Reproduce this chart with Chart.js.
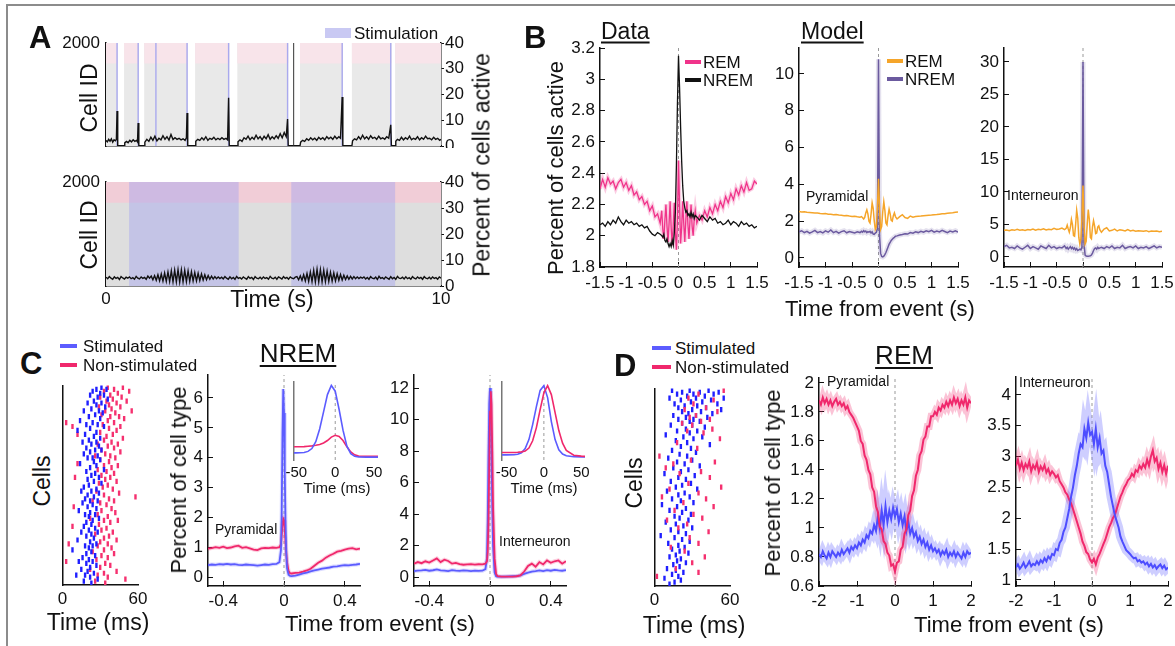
<!DOCTYPE html>
<html>
<head>
<meta charset="utf-8">
<script src="https://cdn.jsdelivr.net/npm/chart.js@4"></script>
<style>
body { margin: 0; background: #fff; width: 1175px; height: 646px; overflow: hidden; position: relative;
       font-family: "Liberation Sans", Arial, Helvetica, sans-serif; color: #111; }
canvas { position: absolute; }
.t { position: absolute; white-space: nowrap; line-height: 1; }
.frame { position: absolute; background: #8c8c8c; }
</style>
</head>
<body>
<div class="frame" style="left:6px;top:4px;width:1169px;height:2px"></div>
<div class="frame" style="left:6px;top:4px;width:2px;height:642px"></div>
<script>
// ---------- panel A : raster + percent of cells active ----------
// edges of the columns where the top raster has spikes (on / off alternating)
const aTopEdges = [0, 0.35, 0.54, 0.98, 1.14, 2.44, 2.66, 3.68, 3.92, 5.44, 5.79, 7.07, 7.34, 8.52, 8.63, 10];
const aTopCells = [2000, 0, 2000, 0, 2000, 0, 2000, 0, 2000, 0, 2000, 0, 2000, 0, 2000, 2000];
const aStimPulses = [0.33, 0.96, 1.49, 2.42, 3.66, 5.42, 7.05, 8.5];
const aBurstCols = [5.6];
// [time (s), percent active]
const aTopLine = [[0,2.2],[0.04,1.6],[0.08,2.6],[0.12,1.9],[0.16,2.8],[0.2,1.5],[0.24,2.4],[0.28,2.0],[0.31,2.6],[0.33,13.6],[0.35,0],[0.54,0],
  [0.56,1.2],[0.61,1.8],[0.66,1.3],[0.71,2.2],[0.76,1.6],[0.81,2.4],[0.86,1.8],[0.91,2.2],[0.94,1.6],[0.96,8.9],[0.98,0],[1.14,0],
  [1.16,1.5],[1.22,2.6],[1.28,1.8],[1.34,3.4],[1.4,2.2],[1.46,3.8],[1.52,2.0],[1.58,3.0],[1.64,2.4],[1.7,4.0],[1.76,2.6],[1.82,3.6],[1.88,2.3],[1.94,4.5],[2.0,2.5],[2.06,3.2],[2.12,2.6],[2.18,3.0],[2.24,2.4],[2.3,2.8],[2.36,2.2],[2.4,3.2],[2.42,12.8],[2.44,0],[2.66,0],
  [2.68,1.8],[2.74,2.6],[2.8,2.2],[2.86,3.2],[2.92,2.4],[2.98,3.6],[3.04,2.2],[3.1,3.0],[3.16,2.6],[3.22,3.4],[3.28,2.4],[3.34,3.0],[3.4,2.5],[3.46,3.2],[3.52,2.6],[3.58,3.0],[3.63,2.4],[3.66,18.7],[3.68,0],[3.92,0],
  [3.94,1.6],[4.0,2.4],[4.06,1.8],[4.12,3.2],[4.18,2.6],[4.24,3.8],[4.3,2.4],[4.36,3.4],[4.42,2.6],[4.48,4.2],[4.54,2.8],[4.6,3.6],[4.66,2.4],[4.72,3.8],[4.78,2.8],[4.84,4.4],[4.9,2.6],[4.96,3.6],[5.02,2.8],[5.08,4.0],[5.14,3.0],[5.2,4.8],[5.26,3.2],[5.32,5.2],[5.38,3.6],[5.42,10.5],[5.44,0],[5.79,0],
  [5.81,1.5],[5.87,2.2],[5.93,1.8],[5.99,2.8],[6.05,2.2],[6.11,3.2],[6.17,2.4],[6.23,3.0],[6.29,2.2],[6.35,3.4],[6.41,2.6],[6.47,3.2],[6.53,2.4],[6.59,3.6],[6.65,2.8],[6.71,3.4],[6.77,2.6],[6.83,3.8],[6.89,2.8],[6.95,3.6],[7.0,3.0],[7.05,19.0],[7.07,0],[7.34,0],
  [7.36,2.0],[7.42,2.8],[7.48,2.4],[7.54,3.6],[7.6,2.6],[7.66,4.2],[7.72,2.8],[7.78,3.6],[7.84,2.6],[7.9,4.0],[7.96,3.0],[8.02,3.4],[8.08,2.6],[8.14,3.8],[8.2,2.8],[8.26,3.2],[8.32,2.6],[8.38,3.6],[8.44,3.0],[8.5,8.2],[8.52,0],[8.63,0],
  [8.65,1.8],[8.7,2.6],[8.76,2.2],[8.82,3.4],[8.88,2.4],[8.94,3.2],[9.0,2.6],[9.06,3.8],[9.12,2.4],[9.18,3.0],[9.24,2.6],[9.3,3.6],[9.36,2.4],[9.42,3.2],[9.48,2.6],[9.54,3.8],[9.6,2.8],[9.66,3.0],[9.72,2.4],[9.78,3.4],[9.84,2.6],[9.9,3.0],[9.96,2.2],[10,2.6]];

// bottom raster: stimulation windows and percent active sampled every 0.05 s
const aBotStim = [[0.69, 3.96], [5.53, 8.63]];
const aBotDt = 0.05;
const aBotPct = [
  3.4,2.8,3.6,3.0,2.6,3.5,2.9,3.3,2.5,3.6,3.1,2.7,3.4,3.0,3.5,2.8,3.2,2.6,3.7,3.0,2.7,3.5,2.9,3.3,2.6,3.8,3.0,
  3.8,2.4,4.0,2.2,4.3,2.0,4.6,1.9,5.0,1.8,5.4,1.7,5.8,1.6,6.1,1.6,6.3,1.5,6.2,1.6,6.0,1.7,5.8,1.8,5.5,1.9,5.2,2.0,4.9,2.1,4.6,2.3,4.3,2.4,4.0,2.6,3.8,2.7,3.6,2.8,3.5,
  2.9,3.4,2.7,3.6,3.0,2.6,3.5,2.8,3.3,2.6,3.7,2.9,3.2,2.7,3.5,3.0,2.6,3.6,2.9,3.3,2.5,3.6,3.0,2.8,3.4,2.7,3.5,2.9,3.2,2.6,3.7,3.0,2.8,3.4,2.6,3.5,3.1,2.7,3.6,2.9,3.3,2.6,3.5,3.0,2.8,3.4,
  3.6,2.4,3.9,2.2,4.3,2.0,4.8,1.8,5.4,1.7,6.0,1.6,6.4,1.6,6.3,1.6,6.0,1.7,5.7,1.8,5.3,1.9,5.0,2.0,4.7,2.2,4.4,2.3,4.1,2.5,3.9,2.6,3.7,2.7,3.6,2.8,3.5,2.9,3.4,3.0,
  3.5,2.7,3.3,2.6,3.6,3.0,2.8,3.4,2.5,3.7,2.9,3.2,2.7,3.5,3.0,2.6,3.6,2.8,3.3,2.6,3.7,3.0,2.9,3.4,2.7,3.5,2.8,3.2,2.6,3.6,3.0,2.7,3.5,2.9,3.3,2.6,3.6,3.0,2.8,3.4,2.7,3.5,2.9,3.2,2.6,3.5,3.0];

// ---------- panel B : event-triggered activity ----------
const bTime = [-1.5,-1.45,-1.4,-1.35,-1.3,-1.25,-1.2,-1.15,-1.1,-1.05,-1,-0.95,-0.9,-0.85,-0.8,-0.75,-0.7,-0.65,-0.6,-0.55,-0.5,-0.45,-0.4,-0.35,
  -0.32,-0.3,-0.28,-0.26,-0.24,-0.22,-0.2,-0.18,-0.16,-0.14,-0.12,-0.1,-0.08,-0.06,-0.04,-0.02,0,0.02,0.04,0.06,0.08,0.1,0.12,0.14,0.16,0.18,0.2,0.22,0.24,0.26,0.28,0.3,0.32,
  0.35,0.4,0.45,0.5,0.55,0.6,0.65,0.7,0.75,0.8,0.85,0.9,0.95,1,1.05,1.1,1.15,1.2,1.25,1.3,1.35,1.4,1.45,1.5];
const bDataRem = [2.30,2.36,2.31,2.37,2.33,2.35,2.30,2.34,2.36,2.31,2.34,2.29,2.32,2.26,2.28,2.23,2.25,2.20,2.22,2.16,2.19,2.12,2.14,2.08,
  2.16,2.04,1.98,2.10,2.20,2.06,1.96,2.08,2.22,2.05,1.94,2.07,2.21,2.02,1.91,2.10,2.48,2.20,1.95,2.05,2.22,2.08,1.96,2.10,2.22,2.07,1.98,2.10,2.20,2.06,2.00,2.10,2.16,
  2.08,2.13,2.10,2.16,2.12,2.18,2.14,2.20,2.16,2.22,2.18,2.25,2.21,2.27,2.23,2.30,2.26,2.32,2.28,2.34,2.29,2.30,2.35,2.33];
const bDataNrem = [2.07,2.08,2.06,2.09,2.07,2.10,2.08,2.12,2.09,2.07,2.10,2.08,2.09,2.07,2.08,2.06,2.07,2.05,2.06,2.03,2.01,2.00,2.02,2.01,
  2.00,1.99,2.01,1.97,1.96,1.98,1.95,1.93,1.95,1.93,1.97,1.94,2.02,2.15,2.45,2.85,3.15,2.95,2.70,2.48,2.32,2.22,2.18,2.15,2.16,2.13,2.14,2.12,2.15,2.12,2.14,2.11,2.13,
  2.12,2.10,2.13,2.11,2.09,2.12,2.10,2.11,2.08,2.09,2.07,2.08,2.10,2.07,2.09,2.08,2.06,2.09,2.07,2.08,2.06,2.07,2.05,2.06];
const bPyrRem = [2.52,2.50,2.51,2.48,2.47,2.46,2.44,2.45,2.42,2.40,2.41,2.38,2.37,2.35,2.36,2.33,2.32,2.30,2.31,2.28,2.26,2.27,2.24,2.22,
  2.25,2.18,2.12,2.20,2.45,2.62,2.40,2.00,1.90,2.40,3.00,2.70,2.00,1.55,1.70,2.80,4.30,2.60,1.55,1.70,2.50,3.05,2.60,1.90,1.80,2.30,2.65,2.40,2.05,2.00,2.30,2.45,2.25,
  2.12,2.25,2.35,2.20,2.15,2.28,2.22,2.25,2.27,2.28,2.30,2.31,2.32,2.33,2.35,2.36,2.38,2.40,2.41,2.43,2.45,2.46,2.48,2.50];
const bPyrNrem = [1.42,1.48,1.38,1.45,1.35,1.42,1.50,1.38,1.44,1.36,1.47,1.40,1.52,1.38,1.45,1.35,1.43,1.48,1.37,1.44,1.40,1.36,1.42,1.38,
  1.45,1.40,1.48,1.42,1.46,1.38,1.43,1.40,1.45,1.36,1.42,1.30,1.28,1.35,1.40,1.60,10.8,1.2,0.25,0.08,0.06,0.10,0.18,0.30,0.45,0.60,0.75,0.85,0.95,1.02,1.08,1.12,1.18,
  1.20,1.25,1.28,1.32,1.30,1.38,1.35,1.42,1.38,1.45,1.40,1.48,1.43,1.50,1.40,1.46,1.42,1.50,1.44,1.38,1.46,1.42,1.48,1.40];
const bIntRem = [4.10,4.15,4.05,4.20,4.10,4.25,4.12,4.18,4.08,4.22,4.15,4.30,4.12,4.25,4.20,4.35,4.15,4.28,4.20,4.40,4.25,4.30,4.45,4.20,
  4.4,4.9,4.3,3.8,4.5,5.8,5.0,3.3,3.2,5.0,7.2,6.0,3.0,2.0,2.8,6.0,11.0,5.0,2.0,2.4,5.0,7.3,5.8,3.0,2.8,4.6,5.6,4.8,3.6,3.7,4.6,4.8,4.2,
  3.8,4.3,4.5,4.0,4.1,4.3,4.0,4.2,4.1,4.0,4.2,4.0,4.1,3.95,4.05,4.0,3.95,4.05,3.9,4.0,3.95,4.0,3.9,3.95];
const bIntNrem = [1.6,1.8,1.4,1.5,1.3,1.7,1.4,1.2,1.5,1.8,1.3,1.6,1.4,1.2,1.7,1.5,1.3,1.8,1.4,1.6,1.3,1.5,1.4,1.7,
  1.3,1.5,1.2,1.4,1.6,1.3,1.5,1.2,1.4,1.1,1.3,1.0,1.1,1.2,1.1,1.5,30.0,2.0,0.3,0.15,0.12,0.12,0.15,0.2,0.3,0.6,1.0,1.3,1.4,1.2,1.5,1.3,1.4,
  1.5,1.3,1.6,1.4,1.7,1.3,1.5,1.4,1.8,1.3,1.5,1.6,1.4,1.7,1.3,1.5,1.4,1.6,1.3,1.5,1.7,1.4,1.6,1.5];

// ---------- panel C : NREM ----------
const cTime = [-0.5,-0.475,-0.45,-0.425,-0.4,-0.375,-0.35,-0.325,-0.3,-0.275,-0.25,-0.225,-0.2,-0.175,-0.15,-0.125,-0.1,-0.075,-0.05,
  -0.03,-0.02,-0.015,-0.01,-0.005,0,0.005,0.01,0.015,0.02,0.03,0.04,
  0.05,0.075,0.1,0.125,0.15,0.175,0.2,0.225,0.25,0.275,0.3,0.325,0.35,0.375,0.4,0.425,0.45,0.475,0.5];
const cPyrStim = [0.40,0.42,0.41,0.43,0.42,0.44,0.42,0.43,0.41,0.40,0.42,0.41,0.40,0.38,0.40,0.42,0.41,0.43,0.44,
  0.5,0.9,2.2,4.8,6.3,5.5,3.5,1.8,0.8,0.3,0.08,0.04,
  0.03,0.05,0.08,0.12,0.15,0.19,0.22,0.25,0.28,0.30,0.32,0.35,0.36,0.38,0.40,0.39,0.41,0.42,0.44];
const cPyrNon = [0.95,0.97,1.00,0.98,1.02,0.97,0.99,1.03,1.05,0.98,1.00,0.96,0.92,0.90,0.96,0.98,0.97,0.99,0.98,
  1.0,1.1,1.4,1.75,1.95,1.9,1.6,1.2,0.8,0.5,0.2,0.13,
  0.12,0.14,0.15,0.18,0.22,0.28,0.38,0.48,0.55,0.65,0.72,0.78,0.85,0.88,0.92,0.95,0.97,0.93,0.95];
const cIntStim = [0.38,0.40,0.42,0.45,0.40,0.43,0.48,0.42,0.40,0.38,0.44,0.41,0.39,0.42,0.40,0.38,0.41,0.39,0.40,
  0.5,1.2,3.5,7.5,11.0,12.0,11.0,8.0,4.5,2.0,0.3,0.05,
  0.02,0.02,0.03,0.04,0.05,0.06,0.10,0.20,0.28,0.35,0.38,0.42,0.38,0.44,0.40,0.45,0.42,0.40,0.44];
const cIntNon = [0.85,0.95,0.88,1.0,0.92,1.05,1.18,0.95,1.1,1.02,0.85,0.9,0.82,0.78,0.8,0.82,0.79,0.81,0.8,
  0.85,1.0,1.6,3.5,7.0,10.5,11.8,11.0,8.0,4.5,1.2,0.2,
  0.05,0.02,0.02,0.03,0.03,0.05,0.10,0.35,0.70,0.85,0.65,0.95,0.80,1.05,0.90,1.00,1.05,0.85,1.00];
const cInsetTime = [-60,-50,-40,-35,-30,-25,-20,-15,-10,-5,0,5,10,15,20,25,30,40,50,55];
const cPyrInsetStim = [0.42,0.42,0.45,0.55,0.8,1.4,2.5,4.0,5.5,6.3,5.8,4.2,2.4,1.0,0.35,0.12,0.06,0.05,0.05,0.05];
const cPyrInsetNon = [0.95,0.95,0.97,1.0,1.03,1.08,1.15,1.28,1.5,1.8,1.95,1.85,1.5,0.95,0.5,0.25,0.14,0.12,0.12,0.12];
const cIntInsetStim = [0.45,0.45,0.47,0.55,0.8,1.5,3.0,5.5,8.5,11.2,12.0,10.0,6.0,3.0,1.3,0.6,0.3,0.15,0.12,0.12];
const cIntInsetNon = [0.85,0.85,0.86,0.88,0.95,1.1,1.6,2.8,5.0,8.0,10.8,12.0,10.5,7.5,4.5,2.4,1.2,0.4,0.25,0.2];
// [time (ms), cell]
const cRasterStim = [[31,100],[27,99],[35,99],[24,98],[30,97],[22,96],[33,96],[28,95],[36,94],[25,93],[31,92],[20,92],[27,91],[34,90],[23,89],[29,88],[17,88],[32,87],[26,86],[21,85],[30,84],[14,83],[24,82],[28,81],[19,81],[33,80],[22,79],[12,78],[27,77],[18,76],[25,75],[30,74],[21,73],[16,72],[27,72],[23,71],[29,70],[19,69],[26,68],[31,68],[22,67],[17,66],[28,65],[24,64],[20,64],[30,63],[25,62],[14,61],[27,60],[22,59],[33,58],[19,57],[26,56],[23,55],[29,54],[20,53],[25,52],[31,51],[21,50],[17,49],[27,48],[23,47],[15,47],[29,46],[20,45],[25,44],[18,43],[22,42],[28,42],[16,41],[24,40],[20,39],[27,38],[13,37],[22,36],[26,35],[18,35],[21,34],[29,33],[24,32],[19,31],[23,30],[17,29],[26,28],[21,27],[28,26],[15,26],[23,25],[19,24],[25,23],[12,22],[22,21],[27,20],[18,19],[24,19],[21,18],[8,17],[23,16],[19,15],[26,14],[16,13],[21,12],[24,11],[13,11],[19,10],[27,9],[22,8],[15,7],[20,6],[25,5],[18,4],[11,4],[22,3],[28,2],[17,1],[23,0]];
const cRasterNon = [[36,100],[48,100],[41,99],[33,98],[53,98],[44,97],[38,96],[47,95],[30,95],[40,94],[35,93],[51,93],[43,92],[37,91],[46,90],[29,90],[39,89],[34,88],[55,88],[42,87],[31,86],[45,85],[38,85],[49,84],[36,83],[3,82],[41,82],[32,81],[8,80],[46,80],[37,79],[43,78],[30,77],[12,76],[40,76],[35,75],[48,74],[33,73],[39,72],[28,71],[44,71],[36,70],[41,69],[31,68],[46,67],[34,66],[38,65],[26,65],[42,64],[30,63],[37,62],[12,61],[33,60],[44,60],[39,59],[28,58],[35,57],[41,56],[31,55],[10,54],[38,54],[34,53],[43,52],[29,51],[36,50],[32,49],[40,48],[27,47],[45,46],[33,45],[58,44],[37,43],[24,42],[41,42],[30,41],[35,40],[9,39],[39,38],[31,37],[42,36],[28,35],[36,34],[22,33],[33,32],[44,32],[38,31],[29,30],[8,29],[35,28],[31,27],[40,26],[26,25],[37,24],[33,23],[43,22],[30,21],[5,20],[36,20],[28,19],[39,18],[33,17],[24,16],[41,15],[31,14],[36,13],[27,12],[3,11],[34,10],[38,9],[30,8],[22,7],[43,6],[33,5],[28,4],[36,3],[50,2],[26,1],[34,0]];

// ---------- panel D : REM (sampled every 0.05 s from -2 s) ----------
const dStart = -2, dDt = 0.05;
const dPyrNon = [1.88,1.85,1.90,1.86,1.89,1.85,1.88,1.84,1.87,1.89,1.85,1.87,1.84,1.86,1.82,1.84,1.80,1.78,1.76,1.73,1.70,
  1.67,1.60,1.58,1.50,1.47,1.40,1.37,1.28,1.25,1.15,1.11,1.01,0.99,0.91,0.89,0.83,0.81,0.74,0.75,0.70,
  0.76,0.77,0.85,0.87,0.96,0.99,1.09,1.12,1.22,1.26,1.36,1.40,1.50,1.53,1.61,1.63,1.70,1.70,1.77,1.77,
  1.80,1.78,1.83,1.81,1.85,1.83,1.87,1.84,1.88,1.85,1.90,1.86,1.89,1.84,1.88,1.85,1.90,1.83,1.88,1.86];
const dPyrStim = [0.82,0.80,0.84,0.81,0.79,0.83,0.80,0.84,0.82,0.80,
  0.83,0.81,0.85,0.82,0.84,0.86,0.83,0.87,0.85,0.88,
  0.86,0.90,0.88,0.92,0.90,0.95,0.93,0.98,0.96,1.02,
  0.98,1.08,1.00,1.12,1.02,1.15,1.04,1.12,1.06,1.14,
  1.08,1.13,1.04,1.10,1.02,1.08,0.98,1.04,0.96,1.00,
  0.94,0.97,0.91,0.94,0.89,0.92,0.87,0.90,0.85,0.88,
  0.84,0.86,0.83,0.85,0.81,0.84,0.82,0.85,0.80,0.83,
  0.81,0.84,0.80,0.83,0.81,0.79,0.83,0.80,0.84,0.82,0.83];
const dIntNon = [2.85,2.95,2.80,2.90,2.78,2.88,2.82,2.92,2.76,2.86,2.80,2.90,2.75,2.84,2.78,2.86,2.74,2.80,2.70,2.76,
  2.72,2.66,2.70,2.60,2.55,2.50,2.42,2.38,2.30,2.24,2.15,2.05,1.95,1.85,1.75,1.62,1.55,1.45,1.42,1.33,
  1.28,1.34,1.25,1.36,1.42,1.50,1.58,1.65,1.75,1.85,1.92,2.00,2.05,2.15,2.25,2.35,2.42,2.50,2.55,2.62,
  2.65,2.72,2.68,2.78,2.75,2.85,2.80,2.88,2.82,2.95,2.85,3.00,3.10,2.92,2.98,2.80,2.90,2.75,2.86,2.72,2.85];
const dIntStim = [1.20,1.25,1.18,1.22,1.28,1.20,1.24,1.30,1.22,1.26,
  1.24,1.30,1.25,1.32,1.28,1.35,1.30,1.38,1.34,1.42,
  1.40,1.50,1.48,1.60,1.65,1.78,1.85,2.00,2.15,2.35,
  2.50,2.70,2.85,3.05,3.20,3.15,3.45,3.30,3.55,3.35,
  3.40,3.20,3.45,3.15,3.30,3.05,3.10,2.85,2.75,2.55,
  2.35,2.20,2.05,1.95,1.85,1.70,1.62,1.55,1.48,1.45,
  1.42,1.38,1.35,1.36,1.30,1.32,1.28,1.30,1.25,1.28,
  1.22,1.26,1.20,1.24,1.18,1.22,1.25,1.19,1.23,1.17,1.20];
const dRasterStim = [[14,100],[28,100],[43,100],[22,99],[36,99],[51,99],[18,98],[31,98],[47,98],[26,97],[40,97],[12,96],[33,96],[55,96],[21,95],[45,95],[29,94],[38,94],[16,93],[50,93],[24,92],[34,92],[41,91],[19,91],[30,90],[53,90],[22,89],[37,89],[27,88],[46,88],[15,87],[33,87],[25,86],[42,86],[19,85],[31,85],[36,84],[28,84],[22,83],[30,82],[13,82],[40,81],[25,80],[18,79],[34,79],[28,78],[9,77],[23,76],[38,76],[31,75],[17,74],[26,73],[44,72],[21,71],[29,70],[14,69],[33,68],[20,67],[26,66],[11,65],[30,64],[18,63],[24,62],[36,61],[15,60],[27,59],[21,58],[8,57],[32,56],[19,55],[25,54],[13,53],[29,52],[22,51],[17,50],[34,49],[10,48],[24,47],[19,46],[28,45],[14,44],[21,43],[31,42],[6,41],[18,40],[25,39],[12,38],[22,37],[29,36],[16,35],[20,34],[27,33],[9,32],[17,31],[23,30],[30,29],[13,28],[19,27],[25,26],[5,25],[16,24],[22,23],[28,22],[11,21],[19,20],[24,19],[14,18],[20,17],[27,16],[17,15],[12,14],[21,13],[18,12],[25,11],[15,10],[20,9],[10,8],[17,7],[23,6],[14,5],[19,4],[8,3],[21,2],[16,1],[12,0]];
const dRasterNon = [[55,100],[35,98],[27,96],[47,95],[31,93],[41,91],[24,90],[50,89],[33,87],[28,86],[44,85],[37,84],[22,83],[30,82],[46,80],[26,79],[39,78],[52,75],[18,73],[34,70],[4,66],[29,64],[48,63],[15,62],[9,60],[37,58],[20,57],[44,55],[27,52],[53,50],[12,49],[35,47],[6,45],[41,44],[23,42],[47,40],[16,38],[31,36],[38,34],[10,33],[26,31],[19,29],[43,27],[28,24],[35,21],[13,19],[24,17],[40,14],[30,11],[17,8],[35,6],[2,4]];

// ---------- colours ----------
const pinkB = '#f0338a', orange = '#f5a52a', purple = '#6b5a9f';
const blueC = '#5c5cff', pinkC = '#f0286c', rasterBlue = '#1f1fff', rasterPink = '#f5306f';

Chart.defaults.font.family = '"Liberation Sans", Arial, Helvetica, sans-serif';
Chart.defaults.color = '#111';

const fmt = v => String(Math.round(v * 100) / 100);
const pts = (xs, ys) => xs.map((x, i) => ({x: x, y: ys[i]}));
const pairs = arr => arr.map(p => ({x: p[0], y: p[1]}));
const grid = (start, dt, n) => Array.from({length: n}, (v, i) => Math.round((start + i * dt) * 1000) / 1000);

function line(data, color, width, order, extra) {
  return Object.assign({data: data, borderColor: color, backgroundColor: color, borderWidth: width,
    pointRadius: 0, fill: false, tension: 0, order: order}, extra || {});
}
function zeroLine(y0, y1) {
  return line([{x: 0, y: y0}, {x: 0, y: y1}], '#9a9a9a', 1, 50, {borderDash: [3, 3]});
}
function dots(arr, color, order) {
  return {data: pairs(arr), showLine: false, pointStyle: 'line', rotation: 90, pointRadius: 2.6,
    pointBorderWidth: 2.4, borderColor: color, backgroundColor: color, order: order};
}

function axis(pos, min, max, tickVals, o) {
  o = o || {};
  const horiz = pos === 'bottom';
  return {
    type: 'linear', position: pos, min: min, max: max,
    afterBuildTicks: s => { s.ticks = tickVals.map(v => ({value: v})); },
    afterFit: s => {
      if (horiz) { s.height = o.size; s.paddingLeft = 0; s.paddingRight = 0; }
      else { s.width = o.size; s.paddingTop = 0; s.paddingBottom = 0; }
    },
    ticks: {display: o.labels !== false, autoSkip: false, maxRotation: 0, padding: o.pad ?? 10,
      font: {size: o.fs || 17}, color: '#111', callback: fmt},
    grid: {display: true, drawOnChartArea: false, drawTicks: o.tl !== 0, tickLength: o.tl ?? -5, color: '#111', lineWidth: 1},
    border: {display: o.border !== false, color: o.bc || '#111', width: o.bw || 1.5}
  };
}

// box: plot area in page pixels, plus the room given to the axes
function plot(box, type, datasets, scales) {
  const yW = box.yW || 0, yR = box.yR || 0, xH = box.xH || 0, padT = box.padT ?? 10, padR = box.padR ?? 12;
  const w = box.r - box.l + yW + yR + padR;
  const h = box.b - box.t + padT + xH;
  const cv = document.createElement('canvas');
  cv.width = w; cv.height = h;
  cv.style.left = (box.l - yW) + 'px';
  cv.style.top = (box.t - padT) + 'px';
  cv.style.width = w + 'px'; cv.style.height = h + 'px';
  document.body.appendChild(cv);
  return new Chart(cv, {type: type, data: {datasets: datasets}, options: {
    responsive: false, animation: false, events: [],
    layout: {padding: {top: padT, right: padR, left: 0, bottom: 0}},
    plugins: {legend: {display: false}, tooltip: {enabled: false}},
    scales: scales}});
}

function text(str, x, y, size, css) {
  const d = document.createElement('div');
  d.className = 't';
  d.textContent = str;
  d.style.left = x + 'px'; d.style.top = y + 'px'; d.style.fontSize = size + 'px';
  d.style.transform = 'translate(0,-50%)';
  Object.assign(d.style, css || {});
  document.body.appendChild(d);
  return d;
}
const center = (s, x, y, size, css) => text(s, x, y, size, Object.assign({transform: 'translate(-50%,-50%)'}, css || {}));
const vert = (s, x, y, size) => text(s, x, y, size, {transform: 'translate(-50%,-50%) rotate(-90deg)'});
function swatch(x, y, w, h, color) {
  const d = document.createElement('div');
  Object.assign(d.style, {position: 'absolute', left: x + 'px', top: y + 'px', width: w + 'px', height: h + 'px', background: color});
  document.body.appendChild(d);
}

// ===== A top =====
const stepped = (edges, vals) => edges.map((x, i) => ({x: x, y: vals[i]}));
const pinkTop = aTopCells.map(v => v === 0 ? 1600 : 2000);
const stimLines = [];
aStimPulses.forEach(t => { stimLines.push({x: t, y: 0}, {x: t, y: 2000}, {x: t, y: null}); });
const burstLines = [];
aBurstCols.forEach(t => { burstLines.push({x: t, y: 0}, {x: t, y: 2000}, {x: t, y: null}); });

plot({l: 106, r: 441, t: 43, b: 146, yW: 60, yR: 40, xH: 2, padT: 10, padR: 4}, 'line', [
  line(aTopLine.map(p => ({x: p[0], y: p[1]})), '#111', 1.4, 1, {yAxisID: 'y2'}),
  line(stimLines, '#a9a9ee', 1.4, 5),
  line(burstLines, '#555', 1.2, 4),
  line(stepped(aTopEdges, pinkTop), 'rgba(0,0,0,0)', 1, 8, {stepped: true, fill: {value: 1600}, backgroundColor: '#f8e4ea'}),
  line(stepped(aTopEdges, aTopCells), 'rgba(0,0,0,0)', 1, 9, {stepped: true, fill: 'origin', backgroundColor: '#e9e9e9'})
], {
  x: axis('bottom', 0, 10, [], {size: 2, labels: false, tl: 0}),
  y: axis('left', 0, 2000, [2000], {size: 60, tl: 0, pad: 6}),
  y2: axis('right', 0, 40, [0, 10, 20, 30, 40], {size: 40, tl: 3, pad: 1})
});

// ===== A bottom =====
const aBotTime = grid(0, aBotDt, aBotPct.length);
const stimBox = [{x: 0, y: 0}];
aBotStim.forEach(w => { stimBox.push({x: w[0], y: 2000}, {x: w[1], y: 0}); });
stimBox.push({x: 10, y: 0});
plot({l: 106, r: 441, t: 182, b: 286, yW: 60, yR: 40, xH: 26, padT: 10, padR: 4}, 'line', [
  line(pts(aBotTime, aBotPct), '#111', 1.4, 1, {yAxisID: 'y2'}),
  line(stimBox, 'rgba(0,0,0,0)', 1, 6, {stepped: true, fill: 'origin', backgroundColor: 'rgba(165,165,240,0.45)'}),
  line([{x: 0, y: 2000}, {x: 10, y: 2000}], 'rgba(0,0,0,0)', 1, 8, {fill: {value: 1600}, backgroundColor: '#f1cdd7'}),
  line([{x: 0, y: 2000}, {x: 10, y: 2000}], 'rgba(0,0,0,0)', 1, 9, {fill: 'origin', backgroundColor: '#dedede'})
], {
  x: axis('bottom', 0, 10, [0, 10], {size: 26, tl: 0, pad: 3}),
  y: axis('left', 0, 2000, [2000], {size: 60, tl: 0, pad: 6}),
  y2: axis('right', 0, 40, [0, 10, 20, 30, 40], {size: 40, tl: 3, pad: 1})
});

text('A', 29, 37, 31, {fontWeight: 'bold'});
swatch(325, 28, 26, 10, '#c9c9f3');
text('Stimulation', 354, 33, 17);
vert('Cell ID', 89, 98, 23);
vert('Cell ID', 89, 235, 23);
vert('Percent of cells active', 482, 165, 23);
center('Time (s)', 272, 299, 23);

// ===== B =====
plot({l: 600, r: 757, t: 48, b: 267, yW: 50, xH: 28, padT: 10, padR: 14}, 'line', [
  line(pts(bTime, bDataNrem), '#111', 1.3, 1),
  line(pts(bTime, bDataRem), pinkB, 1.3, 2),
  line(pts(bTime, bDataRem), 'rgba(240,51,138,0.25)', 4, 3),
  zeroLine(1.8, 3.2)
], {x: axis('bottom', -1.5, 1.5, [-1.5, -1, -0.5, 0, 0.5, 1, 1.5], {size: 28, pad: 11}),
    y: axis('left', 1.8, 3.2, [1.8, 2, 2.2, 2.4, 2.6, 2.8, 3, 3.2], {size: 50})});

plot({l: 799, r: 958, t: 48, b: 267, yW: 40, xH: 28, padT: 10, padR: 14}, 'line', [
  line(pts(bTime, bPyrRem), orange, 1.5, 1),
  line(pts(bTime, bPyrNrem), purple, 1.5, 2),
  line(pts(bTime, bPyrNrem), 'rgba(107,90,159,0.18)', 5, 3),
  zeroLine(-0.49, 11.41)
], {x: axis('bottom', -1.5, 1.5, [-1.5, -1, -0.5, 0, 0.5, 1, 1.5], {size: 28, pad: 11}),
    y: axis('left', -0.49, 11.41, [0, 2, 4, 6, 8, 10], {size: 40})});

plot({l: 1004, r: 1162, t: 48, b: 267, yW: 40, xH: 28, padT: 10, padR: 13}, 'line', [
  line(pts(bTime, bIntRem), orange, 1.5, 1),
  line(pts(bTime, bIntNrem), purple, 1.5, 2),
  line(pts(bTime, bIntNrem), 'rgba(107,90,159,0.18)', 5, 3),
  zeroLine(-1.54, 32.15)
], {x: axis('bottom', -1.5, 1.5, [-1.5, -1, -0.5, 0, 0.5, 1, 1.5], {size: 28, pad: 11}),
    y: axis('left', -1.54, 32.15, [0, 5, 10, 15, 20, 25, 30], {size: 40})});

text('B', 524, 37, 31, {fontWeight: 'bold'});
text('Data', 601, 31, 23, {textDecoration: 'underline', textUnderlineOffset: '3px'});
text('Model', 801, 31, 23, {textDecoration: 'underline', textUnderlineOffset: '3px'});
swatch(685, 60, 16, 4, pinkB); text('REM', 703, 62, 17);
swatch(685, 78, 16, 4, '#111'); text('NREM', 703, 80, 17);
swatch(887, 59, 16, 4, orange); text('REM', 905, 61, 17);
swatch(887, 77, 16, 4, purple); text('NREM', 905, 79, 17);
text('Pyramidal', 806, 196, 14);
text('Interneuron', 1007, 195, 14);
vert('Percent of cells active', 556, 168, 22);
center('Time from event (s)', 880, 309, 22);

// ===== C =====
plot({l: 58, r: 138, t: 385, b: 585, yW: 2, xH: 26, padT: 6, padR: 14}, 'scatter', [
  dots(cRasterStim, rasterBlue, 1),
  dots(cRasterNon, rasterPink, 2)
], {x: axis('bottom', 0, 60, [0, 60], {size: 26, tl: 0, pad: 4}),
    y: axis('left', -1, 101, [], {size: 2, labels: false, tl: 0})});

plot({l: 208, r: 360, t: 375, b: 586, yW: 40, xH: 28, padT: 10, padR: 14}, 'line', [
  line(pts(cTime, cPyrStim), blueC, 1.8, 1),
  line(pts(cTime, cPyrNon), pinkC, 1.8, 2),
  line(pts(cTime, cPyrStim), 'rgba(92,92,255,0.22)', 4, 3),
  line(pts(cTime, cPyrNon), 'rgba(240,40,108,0.22)', 4, 4),
  zeroLine(-0.3, 6.77)
], {x: axis('bottom', -0.5, 0.5, [-0.4, 0, 0.4], {size: 28}),
    y: axis('left', -0.3, 6.77, [0, 1, 2, 3, 4, 5, 6], {size: 40})});

plot({l: 294, r: 378, t: 382, b: 460, yW: 20, xH: 22, padT: 4, padR: 12}, 'line', [
  line(pts(cInsetTime, cPyrInsetStim), blueC, 1.6, 1),
  line(pts(cInsetTime, cPyrInsetNon), pinkC, 1.6, 2),
  zeroLine(-0.2, 6.6)
], {x: axis('bottom', -53, 55, [-50, 0, 50], {size: 22, tl: 0, pad: 4, fs: 15, border: false}),
    y: axis('left', -0.2, 6.6, [], {size: 20, labels: false, tl: 0, bc: '#777'})});

plot({l: 414, r: 566, t: 375, b: 586, yW: 40, xH: 28, padT: 10, padR: 14}, 'line', [
  line(pts(cTime, cIntNon), pinkC, 1.8, 1),
  line(pts(cTime, cIntStim), blueC, 1.8, 2),
  line(pts(cTime, cIntStim), 'rgba(92,92,255,0.22)', 4, 3),
  line(pts(cTime, cIntNon), 'rgba(240,40,108,0.22)', 4, 4),
  zeroLine(-0.57, 12.83)
], {x: axis('bottom', -0.5, 0.5, [-0.4, 0, 0.4], {size: 28}),
    y: axis('left', -0.57, 12.83, [0, 2, 4, 6, 8, 10, 12], {size: 40})});

plot({l: 502, r: 585, t: 382, b: 460, yW: 20, xH: 22, padT: 4, padR: 12}, 'line', [
  line(pts(cInsetTime, cIntInsetNon), pinkC, 1.6, 1),
  line(pts(cInsetTime, cIntInsetStim), blueC, 1.6, 2),
  zeroLine(-0.4, 12.6)
], {x: axis('bottom', -56, 55, [-50, 0, 50], {size: 22, tl: 0, pad: 4, fs: 15, border: false}),
    y: axis('left', -0.4, 12.6, [], {size: 20, labels: false, tl: 0, bc: '#777'})});

text('C', 20, 363, 31, {fontWeight: 'bold'});
swatch(60, 344, 17, 4, blueC); text('Stimulated', 83, 346, 17);
swatch(60, 363, 17, 4, pinkC); text('Non-stimulated', 83, 365, 17);
center('NREM', 298, 353, 26, {textDecoration: 'underline', textUnderlineOffset: '3px'});
vert('Cells', 42, 481, 23);
center('Time (ms)', 98, 622, 23);
vert('Percent of cell type', 179, 480, 22);
center('Time from event (s)', 380, 624, 22);
text('Pyramidal', 215, 529, 14);
text('Interneuron', 499, 541, 14);
center('Time (ms)', 337, 487, 15);
center('Time (ms)', 544, 487, 15);

// ===== D =====
const dTime = grid(dStart, dDt, dPyrNon.length);
plot({l: 650, r: 730, t: 388, b: 586, yW: 2, xH: 26, padT: 6, padR: 14}, 'scatter', [
  dots(dRasterNon, rasterPink, 1),
  dots(dRasterStim, rasterBlue, 2)
], {x: axis('bottom', 0, 60, [0, 60], {size: 26, tl: 0, pad: 4}),
    y: axis('left', -1, 101, [], {size: 2, labels: false, tl: 0})});

plot({l: 819, r: 971, t: 378, b: 586, yW: 45, xH: 28, padT: 10, padR: 10}, 'line', [
  line(pts(dTime, dPyrNon), pinkC, 2, 1),
  line(pts(dTime, dPyrStim), '#4d4dff', 2, 2),
  line(pts(dTime, dPyrNon), 'rgba(240,40,108,0.28)', 7, 3),
  line(pts(dTime, dPyrStim), 'rgba(80,80,255,0.28)', 8, 4),
  zeroLine(0.6, 2.034)
], {x: axis('bottom', -2, 2, [-2, -1, 0, 1, 2], {size: 28}),
    y: axis('left', 0.6, 2.034, [0.6, 0.8, 1, 1.2, 1.4, 1.6, 1.8, 2], {size: 45})});

plot({l: 1016, r: 1168, t: 377, b: 586, yW: 45, xH: 28, padT: 10, padR: 7}, 'line', [
  line(pts(dTime, dIntStim), '#4d4dff', 2, 1),
  line(pts(dTime, dIntNon), pinkC, 2, 2),
  line(pts(dTime, dIntStim), 'rgba(80,80,255,0.28)', 9, 3),
  line(pts(dTime, dIntNon), 'rgba(240,40,108,0.28)', 7, 4),
  zeroLine(0.9, 4.29)
], {x: axis('bottom', -2, 2, [-2, -1, 0, 1, 2], {size: 28}),
    y: axis('left', 0.9, 4.29, [1, 1.5, 2, 2.5, 3, 3.5, 4], {size: 45})});

text('D', 614, 365, 31, {fontWeight: 'bold'});
swatch(652, 346, 19, 4, blueC); text('Stimulated', 675, 348, 17);
swatch(652, 365, 19, 4, pinkC); text('Non-stimulated', 675, 367, 17);
center('REM', 904, 355, 26, {textDecoration: 'underline', textUnderlineOffset: '3px'});
vert('Cells', 634, 483, 23);
center('Time (ms)', 694, 625, 23);
vert('Percent of cell type', 773, 483, 22);
center('Time from event (s)', 1009, 625, 22);
text('Pyramidal', 827, 381, 14);
text('Interneuron', 1019, 382, 14);
</script>
</body>
</html>
